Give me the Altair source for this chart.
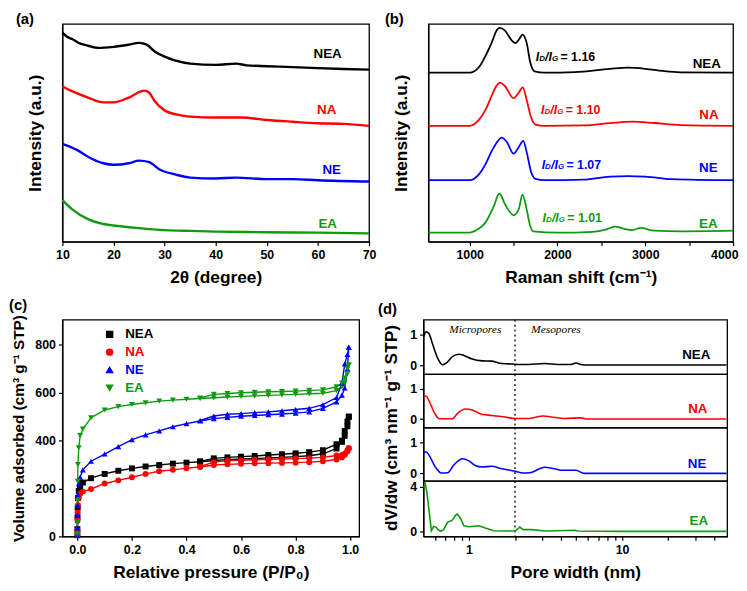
import altair as alt
import pandas as pd

FONT = "Liberation Sans"
samples = ["NEA", "NA", "NE", "EA"]
palette = ["#000000", "#ff0000", "#0000ff", "#109a10"]
shapes = ["square", "circle", "triangle-up", "triangle-down"]
color_scale = alt.Scale(domain=samples, range=palette)

# ---------------- (a) XRD ----------------
xrd_x_nea = [10, 11, 12, 13, 15, 17, 20, 23, 25, 26.5, 28, 30, 32, 35, 40, 44, 46, 50, 55, 60, 65, 70]
xrd_nea = [96, 94, 93, 91.5, 90, 89, 89.5, 90.5, 91.3, 90.5, 87.5, 85, 83.3, 81.8, 81.2, 81.8, 81, 80.6, 80.2, 79.7, 79.3, 79]
xrd_x_na = [10, 12, 15, 18, 20, 23, 26, 27, 28, 30, 33, 35, 40, 45, 50, 55, 60, 65, 70]
xrd_na = [71.3, 69, 66.2, 64, 64, 66.2, 69.4, 68.4, 64.7, 60.3, 58.1, 57.4, 57, 57, 55.9, 55.1, 54.4, 54.1, 53.2]
xrd_x_ne = [10, 13, 15, 18, 20, 23, 25, 27, 29, 32, 35, 40, 44, 50, 55, 60, 70]
xrd_ne = [44.9, 41.9, 39, 36, 35.3, 36, 37.2, 36.5, 33.1, 30.9, 29.4, 29, 29.4, 28.7, 28.7, 28.2, 27.6]
xrd_x_ea = [10, 12, 15, 18, 20, 25, 30, 35, 40, 50, 60, 70]
xrd_ea = [19.1, 14.7, 10.3, 8.1, 7.4, 6.2, 5.3, 4.9, 4.6, 4.3, 4.1, 3.8]
xrd_label_x = [61.9, 61.7, 62.7, 61.9]
xrd_label_y = [86, 60.3, 33.1, 8.1]

# ---------------- (b) Raman ----------------
raman_x_nea = [530, 1000, 1105, 1180, 1256, 1300, 1340, 1400, 1480, 1520, 1570, 1600, 1650, 1690, 1740, 1850, 2200, 2600, 2800, 3000, 3200, 3400, 4000]
raman_nea = [77.6, 77.6, 80.1, 85.3, 91.9, 96.5, 98.2, 97.1, 92.4, 91.2, 93.4, 95.1, 91.2, 82.4, 78.2, 77.6, 77.9, 79.4, 79.9, 79.4, 78.4, 77.8, 77.6]
raman_x_na = [530, 1000, 1105, 1180, 1256, 1300, 1345, 1400, 1500, 1560, 1605, 1650, 1700, 1750, 1850, 2300, 2600, 2850, 3100, 3400, 4000]
raman_na = [53.2, 53.2, 55.9, 60.5, 67.5, 71.3, 73.1, 71.5, 65.9, 68.5, 70.9, 65, 57, 53.8, 53.2, 53.4, 54.4, 55.1, 54.5, 53.5, 53.2]
raman_x_ne = [530, 1000, 1105, 1180, 1256, 1300, 1365, 1420, 1500, 1560, 1610, 1650, 1700, 1750, 1850, 2300, 2600, 2800, 3000, 3300, 4000]
raman_ne = [28.2, 28.2, 30.9, 35.5, 42, 45, 47.8, 46, 40.4, 43.5, 46.3, 41, 32, 28.8, 28.2, 28.5, 29.9, 30.1, 29.9, 28.7, 28.2]
raman_x_ea = [530, 1000, 1068, 1180, 1274, 1338, 1406, 1500, 1560, 1601, 1650, 1688, 1725, 2000, 2400, 2550, 2654, 2750, 2850, 2947, 3100, 3400, 4000]
raman_ea = [4.1, 4.1, 5.1, 8.8, 16.2, 22.1, 16.9, 12.1, 15, 21.6, 14.7, 7.4, 4.7, 4.1, 4.5, 5.5, 6.9, 6, 5.3, 6.3, 5, 4.7, 5]
raman_label_x = [3700, 3725, 3718, 3718]
raman_label_y = [81.6, 58.1, 33.8, 8.1]
id_ig = ["1.16", "1.10", "1.07", "1.01"]
ratio_x = [1752, 1812, 1820, 1830]
ratio_y = [84.6, 60.6, 35.3, 10.7]

# ---------------- (c) N2 isotherms ----------------
p_ads = [0.00001, 0.0001, 0.0005, 0.001, 0.002, 0.005, 0.01, 0.02, 0.05, 0.1, 0.15, 0.2, 0.25, 0.3, 0.35, 0.4,
         0.45, 0.5, 0.55, 0.6, 0.65, 0.7, 0.75, 0.8, 0.85, 0.9, 0.95, 0.97, 0.98, 0.99, 0.995]
ads_nea = [5, 30, 80, 120, 160, 190, 205, 225, 243, 261, 274, 284, 292, 298, 304, 308,
           312, 317, 320, 323, 325, 328, 330, 333, 337, 345, 367, 395, 420, 460, 500]
ads_na = [5, 25, 65, 100, 130, 160, 178, 187, 198, 221, 234, 247, 261, 272, 278, 285,
          290, 298, 301, 303, 305, 306, 307, 308, 310, 314, 321, 330, 341, 355, 368]
ads_ne = [5, 35, 90, 130, 175, 220, 247, 278, 314, 344, 375, 404, 424, 441, 458, 471,
          482, 492, 497, 502, 505, 508, 511, 515, 520, 535, 562, 590, 620, 700, 790]
ads_ea = [10, 60, 150, 230, 300, 370, 421, 448, 495, 528, 542, 551, 558, 565, 569, 573,
          576, 579, 582, 585, 587, 589, 591, 593, 596, 598, 609, 625, 640, 680, 716]
p_des = [0.995, 0.99, 0.98, 0.97, 0.95, 0.9, 0.85, 0.8, 0.75, 0.7, 0.65, 0.6, 0.55, 0.5, 0.45]
des_nea = [500, 480, 440, 400, 385, 360, 352, 347, 343, 340, 336, 333, 330, 326, 313]
des_na = [368, 360, 345, 340, 338, 330, 327, 325, 323, 322, 320, 318, 317, 310, 292]
des_ne = [790, 760, 720, 640, 580, 550, 535, 530, 525, 520, 517, 513, 510, 503, 484]
des_ea = [716, 700, 660, 640, 625, 612, 610, 607, 605, 604, 602, 600, 597, 593, 578]

# ---------------- (d) pore size distributions ----------------
psd_w_nea = [0.507, 0.525, 0.547, 0.58, 0.625, 0.673, 0.714, 0.78, 0.862, 0.928, 1.05, 1.22, 1.41, 1.56, 1.81,
             2.1, 2.44, 3.12, 3.8, 4.64, 5.0, 5.38, 5.95, 10, 20, 48]
psd_nea = [0.95, 1.1, 1.05, 0.69, 0.23, 0.01, 0.07, 0.28, 0.36, 0.32, 0.2, 0.14, 0.13, 0.07, 0.04,
           0.02, 0.02, 0.05, 0.02, 0.02, 0.07, 0.02, 0, 0, 0, 0]
psd_w_na = [0.507, 0.525, 0.55, 0.6, 0.64, 0.78, 0.84, 0.95, 1.05, 1.22, 1.41, 1.72, 2.0, 2.44, 3.05, 3.45,
            4.2, 5.38, 5.95, 10, 20, 48]
psd_na = [0.74, 0.76, 0.59, 0.18, 0.01, 0.01, 0.18, 0.33, 0.3, 0.15, 0.12, 0.07, 0.02, 0.02, 0.1, 0.07,
          0.02, 0.04, 0, 0, 0, 0]
psd_w_ne = [0.507, 0.525, 0.55, 0.6, 0.66, 0.725, 0.8, 0.906, 1.0, 1.1, 1.22, 1.41, 1.64, 2.0, 2.26, 2.5,
            3.12, 3.62, 4.1, 5.0, 5.65, 10, 20, 48]
psd_ne = [0.69, 0.71, 0.59, 0.23, 0.01, 0.02, 0.28, 0.48, 0.41, 0.26, 0.21, 0.23, 0.15, 0.07, 0.01, 0.02,
          0.2, 0.15, 0.1, 0.1, 0, 0, 0, 0]
psd_w_ea = [0.507, 0.52, 0.533, 0.552, 0.569, 0.589, 0.61, 0.63, 0.656, 0.683, 0.725, 0.78, 0.82, 0.84, 0.88,
            0.928, 1.0, 1.16, 1.28, 1.45, 1.72, 2.0, 2.15, 2.26, 2.56, 3.12, 4.93, 5.13, 10, 48]
psd_ea = [3.9, 4.2, 3.4, 1.6, 0.06, 0.44, 0.38, 0.15, 0, 0.15, 0.8, 1.0, 1.46, 1.55, 1.17,
          0.5, 0.41, 0.5, 0.29, 0.06, 0.03, 0.03, 0.38, 0.15, 0.15, 0.03, 0.1, 0.03, 0, 0]
psd_label_x = [30.5, 31.2, 30.9, 31.7]
psd_label_y = [0.33, 0.33, 0.31, 0.88]
region_names = ["Micropores", "Mesopores"]
region_x = [1.1, 3.7]
region_y = [1.15, 1.15]
micro_meso_boundary = [2]


def stack(xs_list, ys_list, xname, yname, extra=None):
    rows = []
    for s, xs, ys in zip(samples, xs_list, ys_list):
        for x, y in zip(xs, ys):
            r = {xname: x, yname: y, "sample": s}
            if extra:
                r.update(extra)
            rows.append(r)
    return pd.DataFrame(rows)


col = alt.Color("sample:N", scale=color_scale, legend=None)
label_font = dict(font=FONT, fontSize=13.5, fontWeight="bold")

# ---------- panel (a)
xrd_df = stack([xrd_x_nea, xrd_x_na, xrd_x_ne, xrd_x_ea], [xrd_nea, xrd_na, xrd_ne, xrd_ea], "angle", "intensity")
xrd_lab = pd.DataFrame({"sample": samples, "angle": xrd_label_x, "intensity": xrd_label_y})
ax_a = alt.X("angle:Q", scale=alt.Scale(domain=[10, 70], nice=False, zero=False),
             axis=alt.Axis(title="2θ (degree)", values=list(range(10, 71, 5)), labelFlush=False,
                           labelExpr="datum.value % 10 == 0 ? datum.label : ''"))
ay_a = alt.Y("intensity:Q", scale=alt.Scale(domain=[0, 100], nice=False),
             axis=alt.Axis(title="Intensity (a.u.)", labels=False, ticks=False, titlePadding=18))
panel_a = alt.layer(
    alt.Chart(xrd_df).mark_line(strokeWidth=2.4, interpolate="monotone").encode(x=ax_a, y=ay_a, color=col),
    alt.Chart(xrd_lab).mark_text(**label_font).encode(x="angle:Q", y="intensity:Q", text="sample:N", color=col),
).properties(width=310, height=220,
             title=alt.TitleParams("(a)", anchor="start", frame="group", dx=-47, offset=-3))

# ---------- panel (b)
raman_df = stack([raman_x_nea, raman_x_na, raman_x_ne, raman_x_ea], [raman_nea, raman_na, raman_ne, raman_ea],
                 "shift", "intensity")
raman_lab = pd.DataFrame({"sample": samples, "shift": raman_label_x, "intensity": raman_label_y})
ratio_df = pd.DataFrame({"sample": samples, "shift": ratio_x, "intensity": ratio_y, "ratio": ["= " + r for r in id_ig]})
ax_b = alt.X("shift:Q", scale=alt.Scale(domain=[530, 4000], nice=False, zero=False),
             axis=alt.Axis(title="Raman shift (cm⁻¹)", values=[1000, 1500, 2000, 2500, 3000, 3500, 4000],
                           labelFlush=True, labelFlushOffset=5, format="d",
                           labelExpr="datum.value % 1000 == 0 ? datum.label : ''"))
ay_b = alt.Y("intensity:Q", scale=alt.Scale(domain=[0, 100], nice=False),
             axis=alt.Axis(title="Intensity (a.u.)", labels=False, ticks=False, titlePadding=18))
ratio_base = alt.Chart(ratio_df).encode(x="shift:Q", y="intensity:Q", color=col)
panel_b = alt.layer(
    alt.Chart(raman_df).mark_line(strokeWidth=1.8, interpolate="monotone").encode(x=ax_b, y=ay_b, color=col),
    alt.Chart(raman_lab).mark_text(**label_font).encode(x="shift:Q", y="intensity:Q", text="sample:N", color=col),
    ratio_base.mark_text(font=FONT, fontSize=12.5, fontWeight="bold", fontStyle="italic", align="left").encode(text=alt.value("I")),
    ratio_base.mark_text(font=FONT, fontSize=8, fontWeight="bold", fontStyle="italic", align="left", dx=3.5, dy=2).encode(text=alt.value("D")),
    ratio_base.mark_text(font=FONT, fontSize=12.5, fontWeight="bold", fontStyle="italic", align="left", dx=9.5).encode(text=alt.value("/I")),
    ratio_base.mark_text(font=FONT, fontSize=8, fontWeight="bold", fontStyle="italic", align="left", dx=16.5, dy=2).encode(text=alt.value("G")),
    ratio_base.mark_text(font=FONT, fontSize=12.5, fontWeight="bold", align="left", dx=25).encode(text="ratio:N"),
).properties(width=308, height=220,
             title=alt.TitleParams("(b)", anchor="start", frame="group", dx=-44, offset=-3))

# ---------- panel (c)
iso_ads = stack([p_ads] * 4, [ads_nea, ads_na, ads_ne, ads_ea], "P", "V", {"branch": "ads"})
iso_des = stack([p_des] * 4, [des_nea, des_na, des_ne, des_ea], "P", "V", {"branch": "des"})
iso_df = pd.concat([iso_ads, iso_des], ignore_index=True)
iso_df["series"] = iso_df["sample"] + "-" + iso_df["branch"]
ax_c = alt.X("P:Q", scale=alt.Scale(domain=[-0.055, 1.033], nice=False, zero=False),
             axis=alt.Axis(title="Relative pressure (P/P₀)", values=[round(i * 0.1, 1) for i in range(11)],
                           labelFlush=False,
                           labelExpr="round(datum.value * 10) % 2 == 0 ? format(datum.value, '.1f') : ''"))
ay_c = alt.Y("V:Q", scale=alt.Scale(domain=[0, 905], nice=False),
             axis=alt.Axis(title="Volume adsorbed (cm³ g⁻¹ STP)", values=list(range(0, 900, 100)),
                           titleFontSize=15.5, titlePadding=8,
                           labelExpr="datum.value % 200 == 0 ? datum.label : ''"))
legend_c = alt.Legend(title=None, orient="none", legendX=41, legendY=8, padding=0, labelFont=FONT,
                      labelFontSize=13.5, labelFontWeight="bold", labelOffset=9, symbolSize=36, rowPadding=3,
                      symbolStrokeWidth=1.5,
                      labelColor=alt.ExprRef("datum.value == 'NEA' ? '#000000' : datum.value == 'NA' ? '#ff0000' : datum.value == 'NE' ? '#0000ff' : '#109a10'"))
panel_c = alt.layer(
    alt.Chart(iso_df).mark_line(strokeWidth=1.4).encode(
        x=ax_c, y=ay_c, color=alt.Color("sample:N", scale=color_scale, legend=legend_c), detail="series:N"),
    alt.Chart(iso_df).mark_point(filled=True, size=36, opacity=1).encode(
        x="P:Q", y="V:Q",
        color=alt.Color("sample:N", scale=color_scale, legend=legend_c),
        shape=alt.Shape("sample:N", scale=alt.Scale(domain=samples, range=shapes), legend=legend_c)),
).properties(width=300, height=219,
             title=alt.TitleParams("(c)", anchor="start", frame="group", dx=-54, offset=2))

# ---------- panel (d)
psd_df = stack([psd_w_nea, psd_w_na, psd_w_ne, psd_w_ea], [psd_nea, psd_na, psd_ne, psd_ea], "w", "dvdw")
psd_lab = pd.DataFrame({"sample": samples, "w": psd_label_x, "dvdw": psd_label_y})
region_df = pd.DataFrame({"name": region_names, "w": region_x, "dvdw": region_y})
bound_df = pd.DataFrame({"w": micro_meso_boundary})
x_scale_d = alt.Scale(type="log", domain=[0.505, 48.5], nice=False)
minor_d = [0.6, 0.7, 0.8, 0.9, 1, 2, 3, 4, 5, 6, 7, 8, 9, 10, 20, 30, 40]


def psd_panel(i, height, ydom, yvals, bottom=False, ytitle=None, title=None, interp="monotone"):
    s = samples[i]
    if bottom:
        xax = alt.Axis(title="Pore width (nm)", values=minor_d, labelFlush=False,
                       labelExpr="datum.value == 1 ? '1' : datum.value == 10 ? '10' : ''")
    else:
        xax = None
    yax_kw = dict(values=yvals, labelPadding=3, title=ytitle)
    if ytitle:
        yax_kw.update(titleY=height, titlePadding=9)
    xenc = alt.X("w:Q", scale=x_scale_d, axis=xax)
    yenc = alt.Y("dvdw:Q", scale=alt.Scale(domain=ydom, nice=False, zero=False), axis=alt.Axis(**yax_kw))
    layers = [
        alt.Chart(bound_df).mark_rule(strokeDash=[2, 3], color="black", strokeWidth=1.3).encode(x=xenc),
        alt.Chart(psd_df[psd_df["sample"] == s]).mark_line(strokeWidth=1.6, interpolate=interp).encode(
            x="w:Q", y=yenc, color=col),
        alt.Chart(psd_lab[psd_lab["sample"] == s]).mark_text(**label_font).encode(
            x="w:Q", y="dvdw:Q", text="sample:N", color=col),
    ]
    if i == 0:
        layers.append(alt.Chart(region_df).mark_text(font="Liberation Serif", fontSize=11.5, fontStyle="italic",
                                                     color="black").encode(x="w:Q", y="dvdw:Q", text="name:N"))
    props = dict(width=307, height=height)
    if title:
        props["title"] = alt.TitleParams(title, anchor="start", frame="group", dx=-46, offset=2)
    return alt.layer(*layers).properties(**props)


panel_d = alt.vconcat(
    psd_panel(0, 55, [-0.3, 1.5], [0, 1], title="(d)"),
    psd_panel(1, 54, [-0.28, 1.48], [0, 1], ytitle="dV/dw (cm³ nm⁻¹ g⁻¹ STP)"),
    psd_panel(2, 54, [-0.25, 1.5], [0, 1]),
    psd_panel(3, 56, [-0.45, 4.5], [0, 2, 4], bottom=True, interp="linear"),
    spacing=0, bounds="flush",
)

top = alt.concat(panel_a, panel_b, columns=2, spacing=7, align="none")
bottom = alt.concat(panel_c, panel_d, columns=2, spacing=17, align="none").resolve_scale(
    color="independent", shape="independent")
chart = alt.concat(top, bottom, columns=1, spacing=10, padding=0, align="none").resolve_scale(
    color="independent", shape="independent").configure_axis(
    labelFont=FONT, labelFontSize=12.5, labelFontWeight="bold", labelColor="black", labelPadding=3,
    titleFont=FONT, titleFontSize=17.5, titleFontWeight="bold", titleColor="black", titlePadding=8,
    domainColor="black", domainWidth=1.2, tickColor="black", tickWidth=1.2, tickSize=4, grid=False,
).configure_view(stroke="black", strokeWidth=1.3).configure_title(
    font=FONT, fontSize=15, fontWeight="bold", color="black")

chart.save("out.html", embed_options={"renderer": "svg", "actions": False})
